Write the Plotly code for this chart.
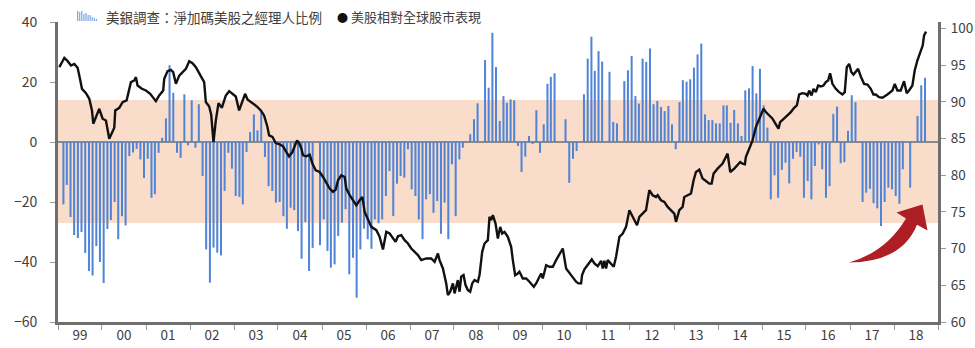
import plotly.graph_objects as go
from datetime import datetime, timedelta

# ---------------- data ----------------
years = list(range(1999, 2019))
# BofA survey: net % of managers overweight US equities (monthly, Jan..Dec)
fms_1999 = [None, -20.8, -14.3, -25, -31, -32, -30, -37, -43, -44.5, -34.7, -40]
fms_2000 = [-47, -29, -26, -20, -32.4, -24.7, -27.8, -4.7, -3.5, -2.3, -5.8, -12]
fms_2001 = [-5.6, -18.6, -17.4, -3.6, 1.4, 7.9, 25.6, 16.4, -3.6, -5.3, 15.9, -1.1]
fms_2002 = [13.9, -1.9, 12.6, -11.3, -35.8, -46.9, -35.2, -36.9, -37.8, -16.3, -3.6, -8.9]
fms_2003 = [-18, -18.3, -20.8, -3.3, 3.3, 9.2, 3.9, 10.1, -5, -14.7, -16.3, -20.2]
fms_2004 = [-20, -24.7, -28.9, -21.9, -22.7, -29.7, -38.9, -26.7, -43, -35.3, None, -34.4]
fms_2005 = [-25.8, -36.3, -41.9, -40.8, -31.3, -26.9, -22.4, -44.1, -38.6, -51.9, -35.8, -28.9]
fms_2006 = [-32.4, -35.6, -25.8, -27.1, -25.8, -18, -9.7, -24.7, -13.9, -11.3, -11.9, -2.4]
fms_2007 = [-15.8, -18, -25.8, -32.4, -19.1, -17.4, -23.6, -19.7, -30.6, -20.2, -32.4, -7.4]
fms_2008 = [-24.7, -5.8, -1.9, None, 2.6, 7.6, 12.9, None, 27.3, 18.1, 36.4, 25]
fms_2009 = [7, 15.3, 13.1, 14.2, 13.9, -1.3, -10, -4.9, 2, -0.5, 10.6, -3.6]
fms_2010 = [5.9, 19.4, 21.7, 22.9, None, None, 7.6, -13.6, -5.6, -3, None, 15.9]
fms_2011 = [27.8, 35.1, 23.7, 30.3, 26.8, None, 23.4, 6.7, 6.2, None, 20.3, 23.9]
fms_2012 = [28.7, 15.3, 12.8, 27.8, 26.7, 31.2, 12.6, 13.7, 11.7, 10.3, 12, 5.9]
fms_2013 = [-2.4, 13.3, 20.6, 20.1, 20.9, 24.8, 29.2, 32.8, 9.2, 7.3, 7.3, 6.2]
fms_2014 = [6.2, 12.2, 12.2, 6.4, 10.7, 6.2, 2, 17.2, 17.9, 25.3, 16.2, 24.4]
fms_2015 = [12.2, 4.8, -19.1, -11.1, -18.6, -9.3, -6.9, -13.8, -5.6, -3.3, -4.9, -18.6]
fms_2016 = [-13, -19.1, -8, -0.8, -9.1, -18.6, -14.7, 9.4, 11.8, -7.1, -6.7, 3.7]
fms_2017 = [15.6, 13.3, None, -20, -16.9, -15.6, -20.4, -22.1, -28, -20, -15.2, -15.8]
fms_2018 = [-18, -20.6, -9.1, None, -15.2, None, 8.7, 18.9, 21.4]

fms_by_year = [fms_1999, fms_2000, fms_2001, fms_2002, fms_2003, fms_2004, fms_2005,
               fms_2006, fms_2007, fms_2008, fms_2009, fms_2010, fms_2011, fms_2012,
               fms_2013, fms_2014, fms_2015, fms_2016, fms_2017, fms_2018]

# US vs global equities relative performance (right axis)
# time in years since 1999-01-01
line_t = [0.03, 0.144, 0.22, 0.295, 0.37, 0.446, 0.499, 0.545, 0.636, 0.711, 0.772, 0.802,
          0.863, 0.938, 1.014, 1.089, 1.165, 1.226, 1.279, 1.301, 1.392, 1.468, 1.559, 1.604,
          1.657, 1.733, 1.771, 1.808, 1.907, 1.998, 2.096, 2.225, 2.3, 2.391, 2.414, 2.49,
          2.565, 2.618, 2.679, 2.755, 2.83, 2.906, 2.982, 3.057, 3.133, 3.224, 3.322, 3.36,
          3.436, 3.481, 3.534, 3.587, 3.648, 3.723, 3.814, 3.89, 3.965, 4.041, 4.116, 4.192,
          4.253, 4.306, 4.419, 4.518, 4.609, 4.684, 4.76, 4.798, 4.874, 4.949,
          5.04, 5.115, 5.191, 5.251, 5.327, 5.38, 5.433, 5.479, 5.531, 5.569, 5.645, 5.72,
          5.781, 5.857, 5.947, 6.023, 6.099, 6.175, 6.25, 6.311, 6.364, 6.439, 6.515, 6.553,
          6.629, 6.705, 6.78, 6.856, 6.917, 6.97, 7.045, 7.121, 7.235, 7.31, 7.386, 7.461,
          7.537, 7.613, 7.673, 7.726, 7.802, 7.878, 7.953, 8.029, 8.105, 8.18, 8.256, 8.369,
          8.483, 8.559, 8.634, 8.672, 8.748, 8.823, 8.861, 8.914, 8.975, 9.013, 9.088, 9.126,
          9.164, 9.217, 9.262, 9.315, 9.368, 9.414, 9.466, 9.542, 9.58, 9.641, 9.694, 9.769,
          9.807, 9.845, 9.883, 9.944, 9.997, 10.05, 10.095, 10.148,
          10.223, 10.299, 10.337, 10.39, 10.45, 10.488, 10.564, 10.64, 10.715, 10.814, 10.867,
          10.942, 10.98, 11.018, 11.094, 11.169, 11.245, 11.321, 11.397, 11.472, 11.548,
          11.624, 11.7, 11.775, 11.828, 11.889, 11.911, 11.964, 12.04, 12.131, 12.191, 12.267,
          12.343, 12.381, 12.418, 12.456, 12.494, 12.57, 12.63, 12.683, 12.759, 12.835, 12.91,
          12.986, 13.061, 13.16, 13.212, 13.288, 13.364, 13.439, 13.515, 13.591, 13.629,
          13.704, 13.78, 13.856, 13.931, 14.007, 14.045, 14.121, 14.196, 14.234, 14.31,
          14.386, 14.446, 14.499, 14.575, 14.65, 14.726, 14.802, 14.855, 14.9, 14.991, 15.104,
          15.218, 15.278,
          15.369, 15.444, 15.505, 15.558, 15.611, 15.633, 15.709, 15.785, 15.861, 15.959,
          16.035, 16.088, 16.163, 16.239, 16.315, 16.375, 16.413, 16.489, 16.58, 16.655,
          16.731, 16.792, 16.845, 16.92, 16.996, 17.034, 17.072, 17.125, 17.17, 17.223,
          17.276, 17.336, 17.397, 17.45, 17.503, 17.548, 17.601, 17.677, 17.753, 17.828,
          17.881, 17.927, 17.98, 18.033, 18.078, 18.131, 18.184, 18.245, 18.32, 18.396,
          18.472, 18.532, 18.585, 18.661, 18.737, 18.85, 18.964, 19.017, 19.077, 19.153,
          19.229, 19.289, 19.342, 19.418, 19.471, 19.531, 19.607, 19.652, 19.683, 19.728]
line_v = [94.74, 96.0, 95.56, 94.97, 95.19, 94.65, 93.15, 91.79, 91.2, 90.43, 88.84, 87.03,
          87.94, 89.07, 87.71, 87.48, 84.99, 85.9, 86.49, 88.84, 89.2, 89.98, 90.2, 91.34,
          92.7, 92.93, 93.38, 92.24, 91.79, 91.56, 91.11, 90.11, 90.88, 91.56, 93.15, 94.2,
          94.38, 94.06, 92.47, 93.6, 94.06, 94.51, 95.56, 95.28, 94.74, 93.83, 92.7, 89.98,
          89.39, 88.3, 84.54, 87.48, 89.84, 89.2, 90.88, 91.47, 91.11, 90.75, 88.84, 89.98,
          91.11, 90.34, 89.84, 89.39, 88.84, 88.16, 86.58, 85.44, 85.22, 84.4,
          84.22, 83.95, 83.17, 82.59, 83.17, 83.85, 84.76, 84.4, 83.63, 82.72, 82.59, 82.81,
          81.59, 80.68, 80.45, 79.77, 78.87, 78.19, 77.73, 78.05, 79.32, 80.0, 79.77, 78.19,
          77.28, 76.6, 75.92, 76.6, 77.05, 75.01, 73.88, 72.97, 72.52, 71.61, 69.89, 72.29,
          72.06, 71.38, 70.93, 71.7, 71.84, 71.16, 70.7, 70.02, 69.57, 69.12, 68.44, 68.66,
          68.66, 68.21, 69.34, 68.44, 67.3, 65.26, 63.67, 64.13, 65.26, 63.9, 65.71, 64.13,
          66.17, 66.39, 65.03, 64.35, 64.13, 65.26, 65.71, 65.49, 66.39, 69.57, 70.7, 71.16,
          74.33, 73.88, 74.56, 73.42, 71.38, 72.97, 72.06, 72.29,
          71.61, 70.25, 68.44, 66.39, 66.62, 66.85, 65.94, 65.94, 65.49, 64.81, 65.26,
          66.17, 66.62, 65.94, 67.75, 67.53, 67.53, 68.44, 69.34, 70.02, 67.3,
          66.62, 66.08, 65.49, 65.26, 65.26, 66.39, 67.17, 67.75, 68.53, 67.98, 67.62,
          68.34, 67.3, 68.34, 67.3, 68.44, 67.98, 67.53, 68.89, 71.61, 72.06, 72.97,
          75.24, 74.33, 73.2, 74.33, 74.78, 75.24, 77.96, 77.28, 77.05, 77.28,
          76.6, 76.37, 75.69, 75.24, 74.78, 73.65, 75.24, 75.69, 77.05, 77.28,
          77.51, 79.32, 80.45, 80.77, 79.55, 79.23, 78.87, 78.87, 80.23, 80.91, 81.59,
          82.95, 80.45,
          80.91, 81.36, 81.81, 81.59, 81.5, 82.49, 83.63, 84.76, 86.58, 87.94,
          89.07, 88.62, 88.16, 87.71, 86.94, 86.35, 87.26, 87.71, 88.16, 88.62,
          89.21, 89.52, 91.02, 91.2, 91.11, 90.88, 91.56, 90.88, 91.79, 91.34,
          92.24, 92.11, 92.24, 92.7, 92.93, 93.92, 92.47, 91.79, 91.34, 91.02,
          91.34, 94.74, 95.19, 94.06, 93.74, 94.06, 94.51, 93.47, 92.47, 92.38,
          91.79, 91.02, 91.02, 90.66, 90.57, 91.02, 91.56, 92.47, 91.56, 91.56,
          92.83, 91.2, 91.56, 92.24, 94.29, 95.65, 96.78, 97.69, 99.05, 99.59]

band_low, band_high = -27, 14          # shaded range on the left axis
legend_bar = "美銀調查：淨加碼美股之經理人比例"
legend_line = "美股相對全球股市表現"

# ---------------- build ----------------
bar_x, bar_y = [], []
for yr, vals in zip(years, fms_by_year):
    for i, v in enumerate(vals):
        bar_x.append(f"{yr}-{i + 1:02d}-15")
        bar_y.append(v)

t0 = datetime(1999, 1, 1)
line_x = [t0 + timedelta(days=t * 365.25) for t in line_t]

FONT = "Noto Sans CJK TC"
TXT = "#404040"
AX = "#6f6f6f"

fig = go.Figure()
fig.add_trace(go.Bar(x=bar_x, y=bar_y, marker=dict(color="#4F84D6", line=dict(width=0)),
                     width=0.55 * 30.44 * 86400000, showlegend=False, yaxis="y"))
fig.add_trace(go.Scatter(x=line_x, y=line_v, mode="lines", yaxis="y2",
                         line=dict(color="#111111", width=2.4), showlegend=False))

# plot geometry in px (for decorations)
L, R, T, B = 58, 37, 22, 26
W, H = 975, 348
PW, PH = W - L - R, H - T - B


def px(x, y):
    return (x - L) / PW, (H - B - y) / PH


shapes = [dict(type="rect", xref="paper", yref="y", x0=0, x1=1, y0=band_low, y1=band_high,
               fillcolor="#FADCCB", line=dict(width=0), layer="below")]

# red curved arrow
tail = (849, 262.5)
a_up = (906, 218.5)
b_lo = (917, 224.8)
h_l, tip, h_r = (896.5, 212.5), (922.5, 204.5), (927.5, 230.5)
c_up = (886, 252)
c_lo = (902, 262)
pts = [tail, c_up, a_up, h_l, tip, h_r, b_lo, c_lo]
P = [px(*p) for p in pts]
path = (f"M {P[0][0]},{P[0][1]} Q {P[1][0]},{P[1][1]} {P[2][0]},{P[2][1]} "
        f"L {P[3][0]},{P[3][1]} L {P[4][0]},{P[4][1]} L {P[5][0]},{P[5][1]} "
        f"L {P[6][0]},{P[6][1]} Q {P[7][0]},{P[7][1]} {P[0][0]},{P[0][1]} Z")
shapes.append(dict(type="path", xref="paper", yref="paper", path=path,
                   fillcolor="#AD1F24", line=dict(width=0), layer="above"))

# small bar icon for legend
icon_h = [10, 9, 10, 7, 8, 6, 6, 4, 3, 2]
for i, h in enumerate(icon_h):
    x0 = 77 + i * 2.1
    a0 = px(x0, 21)
    a1 = px(x0 + 1.2, 21 - h)
    shapes.append(dict(type="rect", xref="paper", yref="paper", x0=a0[0], x1=a1[0],
                       y0=a0[1], y1=a1[1], fillcolor="#7EA5E4", line=dict(width=0)))

annotations = [
    dict(xref="paper", yref="paper", x=px(104, 0)[0], y=px(0, 16.5)[1], text=legend_bar,
         showarrow=False, xanchor="left", yanchor="middle",
         font=dict(family=FONT, size=13.5, color=TXT)),
    dict(xref="paper", yref="paper", x=px(342, 0)[0], y=px(0, 16.5)[1], text="●",
         showarrow=False, xanchor="center", yanchor="middle",
         font=dict(family=FONT, size=11, color="#111111")),
    dict(xref="paper", yref="paper", x=px(349, 0)[0], y=px(0, 16.5)[1], text=legend_line,
         showarrow=False, xanchor="left", yanchor="middle",
         font=dict(family=FONT, size=13, color=TXT)),
]

fig.update_layout(
    width=W, height=H, margin=dict(l=L, r=R, t=T, b=B, autoexpand=False),
    paper_bgcolor="white", plot_bgcolor="white",
    font=dict(family=FONT, color=TXT, size=14),
    bargap=0.4, shapes=shapes, annotations=annotations,
    xaxis=dict(type="date", range=["1999-01-01", "2019-01-01"], dtick="M12",
               tick0="1999-01-01", tickformat="%y", ticklabelmode="period",
               ticks="outside", ticklen=5, tickwidth=1, tickcolor="#9a9a9a",
               showline=True, linecolor=AX, linewidth=3, showgrid=False, zeroline=False,
               automargin=False, ticklabelstandoff=-6, tickfont=dict(size=13.5, color=TXT)),
    yaxis=dict(range=[-60, 40], dtick=20, ticks="outside", ticklen=5, tickwidth=1,
               tickcolor="#9a9a9a", showline=True, linecolor=AX, linewidth=3,
               showgrid=False, zeroline=True, zerolinecolor="#8a8a8a", zerolinewidth=1.5,
               automargin=False, ticklabelstandoff=10, tickfont=dict(size=14, color=TXT)),
    yaxis2=dict(range=[60, 100.9], dtick=5, overlaying="y", side="right", ticks="outside",
                ticklen=5, tickwidth=1, tickcolor="#9a9a9a", showline=True, linecolor=AX,
                linewidth=3, showgrid=False, zeroline=False, ticklabelstandoff=2,
                automargin=False, tickfont=dict(size=13.5, color=TXT)),
)

fig.write_html("out.html")
